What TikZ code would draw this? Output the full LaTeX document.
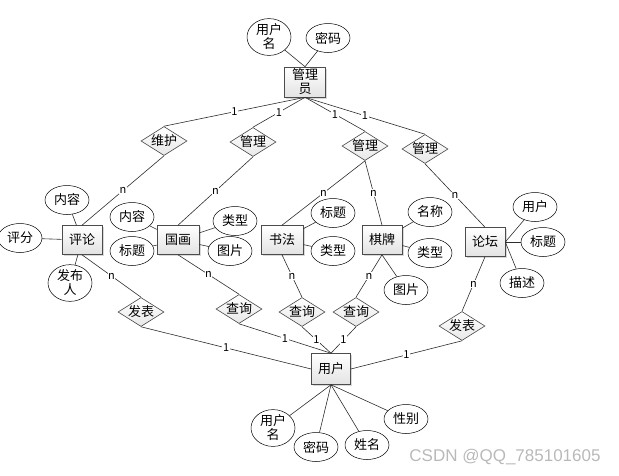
\documentclass[tikz,border=0pt]{standalone}
\usepackage{fontspec}
\setmainfont{Noto Sans CJK SC}
\newfontfamily\wmfont{Liberation Sans}
\usetikzlibrary{shapes.geometric,shadows}
\tikzset{
  ent/.style={draw=gray!60!black, line width=0.6pt, top color=white, bottom color=gray!22,
    drop shadow={opacity=0.3,shadow xshift=1.5pt,shadow yshift=-1.5pt},
    minimum width=40pt, minimum height=29pt, inner sep=0pt, align=center,
    font=\fontsize{13}{14}\selectfont},
  attr/.style={ellipse, draw, line width=0.5pt, fill=white, minimum width=44pt, minimum height=29pt,
    inner sep=0pt, align=center, font=\fontsize{13}{14}\selectfont},
  rel/.style={diamond, draw=gray!55!black, line width=0.6pt, top color=white, bottom color=gray!18,
    aspect=1.6, minimum width=46pt, minimum height=29pt, inner sep=0pt,
    font=\fontsize{13}{14}\selectfont},
  card/.style={fill=white, inner sep=0.6pt, font=\fontsize{11}{11}\selectfont},
  ln/.style={draw=gray!35!black, line width=0.6pt}
}
\begin{document}
\begin{tikzpicture}[x=1pt,y=-1pt]
  \useasboundingbox (0,0) rectangle (619,475);
  % entities
  \node[ent, minimum width=41pt, minimum height=30pt] (gly) at (305,82) {管理\\员};
  \node[ent] (pl) at (82,240) {评论};
  \node[ent, minimum width=42pt] (gh) at (178,240) {国画};
  \node[ent, minimum width=42pt] (sf) at (282,240) {书法};
  \node[ent] (qp) at (382,240) {棋牌};
  \node[ent] (lt) at (485,242) {论坛};
  \node[ent, minimum width=39pt, minimum height=31pt] (yh) at (331,369) {用户};
  % relations
  \node[rel] (wh) at (164,141) {维护};
  \node[rel] (gl1) at (253,142) {管理};
  \node[rel] (gl2) at (365,146) {管理};
  \node[rel] (gl3) at (425,149) {管理};
  \node[rel] (fb1) at (141,312) {发表};
  \node[rel] (cx1) at (239,309) {查询};
  \node[rel] (cx2) at (302,312) {查询};
  \node[rel] (cx3) at (356,312) {查询};
  \node[rel] (fb2) at (462,326) {发表};
  % attributes
  \node[attr, minimum height=30pt] (gyhm) at (269,37) {用户\\名};
  \node[attr] (gmm) at (328,38) {密码};
  \node[attr] (plnr) at (67,200) {内容};
  \node[attr] (plpf) at (20,238) {评分};
  \node[attr, minimum height=30pt] (plfb) at (70,283) {发布\\人};
  \node[attr] (ghnr) at (132,217) {内容};
  \node[attr] (ghbt) at (132,251) {标题};
  \node[attr] (ghlx) at (235,221) {类型};
  \node[attr] (ghtp) at (230,251) {图片};
  \node[attr] (sfbt) at (333,213) {标题};
  \node[attr] (sflx) at (333,251) {类型};
  \node[attr] (qpmc) at (430,212) {名称};
  \node[attr] (qplx) at (430,253) {类型};
  \node[attr] (qptp) at (406,290) {图片};
  \node[attr] (ltyh) at (535,207) {用户};
  \node[attr] (ltbt) at (543,242) {标题};
  \node[attr] (ltms) at (522,283) {描述};
  \node[attr] (yhm) at (273,428) {用户\\名};
  \node[attr] (ymm) at (316,447) {密码};
  \node[attr] (yxm) at (367,445) {姓名};
  \node[attr] (yxb) at (406,419) {性别};
  % attribute lines
  \draw[ln] (gyhm) -- (gly.north);
  \draw[ln] (gmm) -- (gly.north);
  \draw[ln] (pl) -- (plnr);
  \draw[ln] (pl) -- (plpf);
  \draw[ln] (pl) -- (plfb);
  \draw[ln] (gh) -- (ghnr);
  \draw[ln] (gh) -- (ghbt);
  \draw[ln] (gh) -- (ghlx);
  \draw[ln] (gh) -- (ghtp);
  \draw[ln] (sf) -- (sfbt);
  \draw[ln] (sf) -- (sflx);
  \draw[ln] (qp) -- (qpmc);
  \draw[ln] (qp) -- (qplx);
  \draw[ln] (qp.south) -- (qptp);
  \draw[ln] (lt.east) -- (ltyh);
  \draw[ln] (lt.east) -- (ltbt);
  \draw[ln] (lt.east) -- (ltms);
  \draw[ln] (yh.south) -- (yhm);
  \draw[ln] (yh.south) -- (ymm);
  \draw[ln] (yh.south) -- (yxm);
  \draw[ln] (yh.south) -- (yxb);
  % relationship lines
  \draw[ln] (gly.south) -- (wh.north) node[card,midway] {1};
  \draw[ln] (gly.south) -- (gl1.north) node[card,midway] {1};
  \draw[ln] (gly.south) -- (gl2.north) node[card,midway] {1};
  \draw[ln] (gly.south) -- (gl3.north) node[card,midway] {1};
  \draw[ln] (wh.south) -- (pl.north) node[card,midway] {n};
  \draw[ln] (gl1.south) -- (gh.north) node[card,midway] {n};
  \draw[ln] (gl2.south) -- (sf.north) node[card,midway] {n};
  \draw[ln] (gl2.south) -- (qp.north) node[card,midway] {n};
  \draw[ln] (gl3.south) -- (lt.north) node[card,midway] {n};
  \draw[ln] (pl.south) -- (fb1.north) node[card,midway] {n};
  \draw[ln] (gh.south) -- (cx1.north) node[card,midway] {n};
  \draw[ln] (sf.south) -- (cx2.north) node[card,midway] {n};
  \draw[ln] (qp.south) -- (cx3.north) node[card,midway] {n};
  \draw[ln] (lt.south) -- (fb2.north) node[card,midway] {n};
  \draw[ln] (fb1.south) -- (yh.west) node[card,midway] {1};
  \draw[ln] (cx1.south) -- (yh.north) node[card,midway] {1};
  \draw[ln] (cx2.south) -- (yh.north) node[card,midway] {1};
  \draw[ln] (cx3.south) -- (yh.north) node[card,midway] {1};
  \draw[ln] (fb2.south) -- (yh.east) node[card,midway] {1};
  \node[text=gray!55, font=\wmfont\fontsize{17}{17}\selectfont] (wm) at (505,457) {CSDN @QQ\_785101605};
\end{tikzpicture}
\end{document}
